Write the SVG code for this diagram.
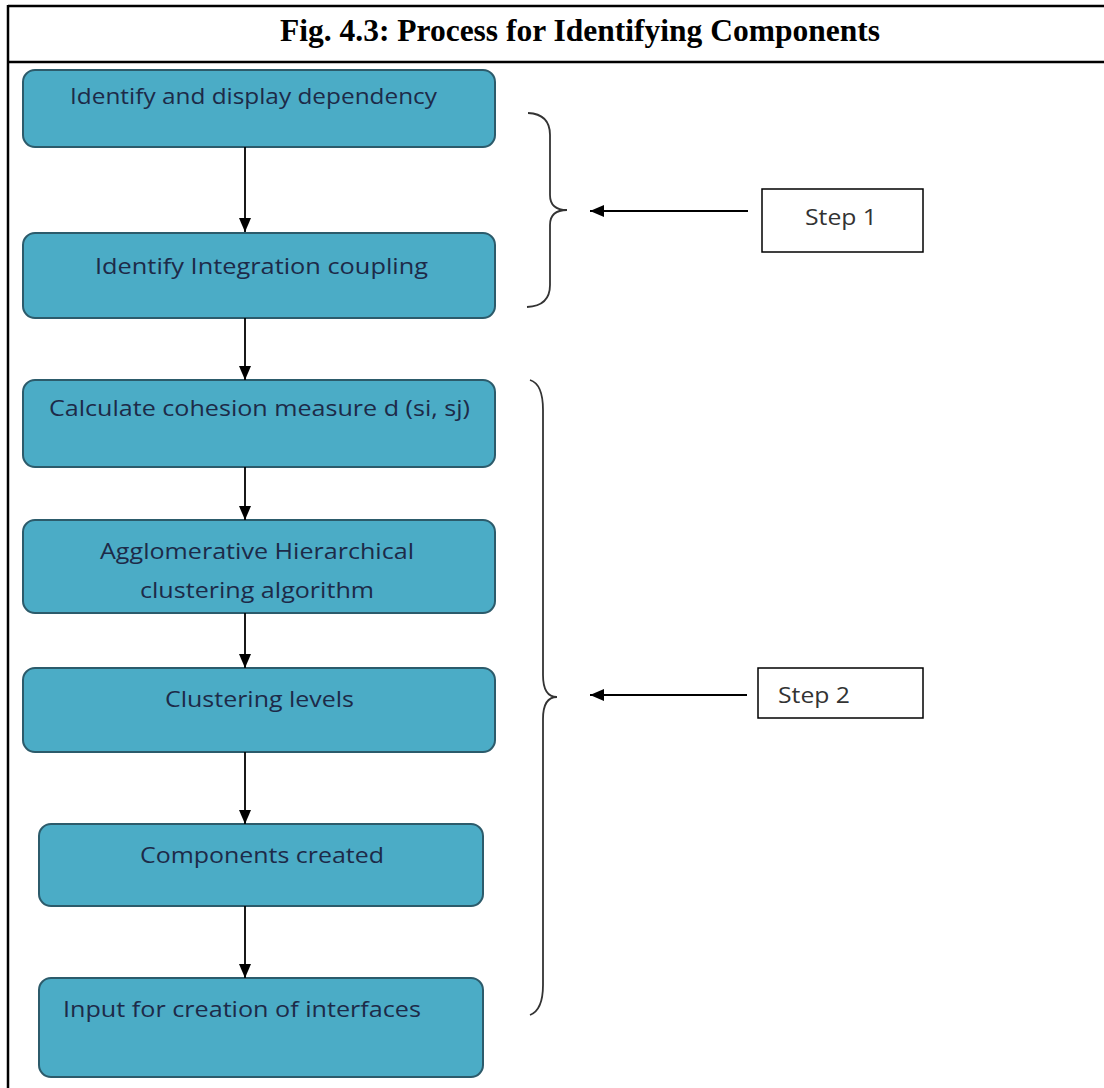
<svg xmlns="http://www.w3.org/2000/svg" width="1104" height="1088" viewBox="0 0 1104 1088">
  <defs>
    <style>
      .frame { stroke: #000; stroke-width: 2.5; fill: none; }
      .title { font-family: "Liberation Serif", "Times New Roman", serif; font-weight: bold; font-size: 31.5px; fill: #000; }
      .box { fill: #4bacc6; stroke: #2c5b6b; stroke-width: 2; }
      .label { font-family: "Open Sans", "Liberation Sans", sans-serif; font-size: 22px; fill: #1d2a48; }
      .step { fill: #fff; stroke: #000; stroke-width: 1.5; }
      .steplabel { font-family: "Open Sans", "Liberation Sans", sans-serif; font-size: 21px; fill: #333; }
      .flow { stroke: #000; stroke-width: 1.8; fill: none; marker-end: url(#head); }
      .brace { stroke: #333; stroke-width: 1.8; fill: none; }
    </style>
    <marker id="head" viewBox="0 0 14 14" refX="14" refY="7" markerWidth="14" markerHeight="14" markerUnits="userSpaceOnUse" orient="auto">
      <path d="M0,1 L14,7 L0,13 Z" fill="#000"/>
    </marker>
  </defs>

  <rect width="1104" height="1088" fill="#fff"/>

  <!-- table frame and caption row -->
  <g id="frame">
    <line class="frame" x1="8" y1="6" x2="1104" y2="6"/>
    <line class="frame" x1="8" y1="62" x2="1104" y2="62"/>
    <line class="frame" x1="8" y1="5" x2="8" y2="1088"/>
    <text class="title" x="580" y="41" text-anchor="middle">Fig. 4.3: Process for Identifying Components</text>
  </g>

  <g id="n1">
    <rect class="box" x="23" y="70" width="472" height="77" rx="12"/>
    <text class="label" x="70" y="104" textLength="367" lengthAdjust="spacingAndGlyphs">Identify and display dependency</text>
  </g>
  <g id="n2">
    <rect class="box" x="23" y="233" width="472" height="85" rx="12"/>
    <text class="label" x="95" y="274" textLength="333" lengthAdjust="spacingAndGlyphs">Identify Integration coupling</text>
  </g>
  <g id="n3">
    <rect class="box" x="23" y="380" width="472" height="87" rx="12"/>
    <text class="label" x="49" y="416" textLength="421" lengthAdjust="spacingAndGlyphs">Calculate cohesion measure d (si, sj)</text>
  </g>
  <g id="n4">
    <rect class="box" x="23" y="520" width="472" height="93" rx="12"/>
    <text class="label" x="100" y="559" textLength="314" lengthAdjust="spacingAndGlyphs">Agglomerative Hierarchical</text>
    <text class="label" x="140" y="598" textLength="234" lengthAdjust="spacingAndGlyphs">clustering algorithm</text>
  </g>
  <g id="n5">
    <rect class="box" x="23" y="668" width="472" height="84" rx="12"/>
    <text class="label" x="165" y="707" textLength="189" lengthAdjust="spacingAndGlyphs">Clustering levels</text>
  </g>
  <g id="n6">
    <rect class="box" x="39" y="824" width="444" height="82" rx="12"/>
    <text class="label" x="140" y="863" textLength="244" lengthAdjust="spacingAndGlyphs">Components created</text>
  </g>
  <g id="n7">
    <rect class="box" x="39" y="978" width="444" height="99" rx="12"/>
    <text class="label" x="63" y="1017" textLength="358" lengthAdjust="spacingAndGlyphs">Input for creation of interfaces</text>
  </g>

  <g id="step1">
    <rect class="step" x="762" y="189" width="161" height="63"/>
    <text class="steplabel" x="805" y="225" textLength="72" lengthAdjust="spacingAndGlyphs">Step 1</text>
  </g>
  <g id="step2">
    <rect class="step" x="758" y="668" width="165" height="50"/>
    <text class="steplabel" x="778" y="703" textLength="72" lengthAdjust="spacingAndGlyphs">Step 2</text>
  </g>

  <!-- braces grouping the steps -->
  <g id="braces">
    <path class="brace" d="M528,113 Q550,114 550,135 L550,195 Q550,210 567,210 Q550,210 550,225 L550,285 Q550,306 527,307"/>
    <path class="brace" d="M530,380 Q543,384 543,410 L543,675 Q543,697 557,697 Q543,697 543,719 L543,985 Q543,1010 530,1015"/>
  </g>

  <g id="connectors">
    <line class="flow" x1="245" y1="147" x2="245" y2="232"/>
    <line class="flow" x1="245" y1="318" x2="245" y2="380"/>
    <line class="flow" x1="245" y1="467" x2="245" y2="520"/>
    <line class="flow" x1="245" y1="613" x2="245" y2="668"/>
    <line class="flow" x1="245" y1="752" x2="245" y2="824"/>
    <line class="flow" x1="245" y1="906" x2="245" y2="978"/>
    <line class="flow" x1="748" y1="211" x2="590" y2="211"/>
    <line class="flow" x1="747" y1="695" x2="590" y2="695"/>
  </g>
</svg>
